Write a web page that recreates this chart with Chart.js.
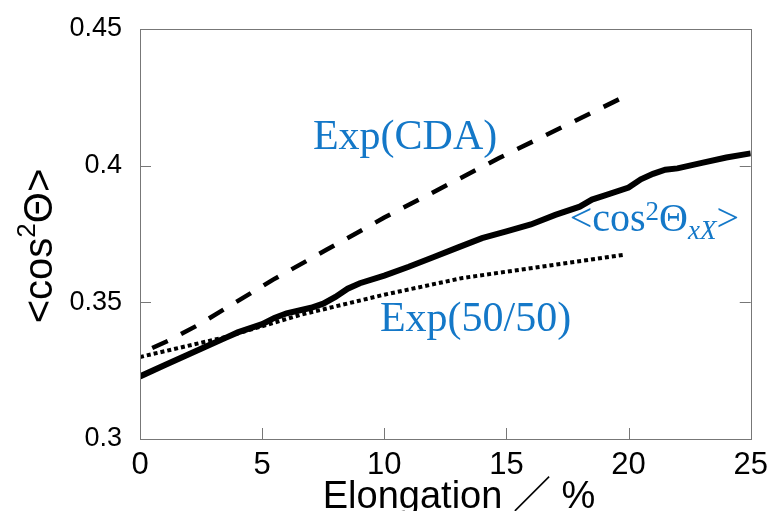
<!DOCTYPE html>
<html>
<head>
<meta charset="utf-8">
<script src="https://cdn.jsdelivr.net/npm/chart.js@4/dist/chart.umd.min.js"></script>
<style>
  html, body { margin: 0; padding: 0; background: #fff; overflow: hidden; }
  #wrap { width: 768px; height: 511px; }
</style>
</head>
<body>
<div id="wrap"><canvas id="chart"></canvas></div>
<script>
// axis ticks
const xTicks = [0, 5, 10, 15, 20, 25]
const yTicks = [0.3, 0.35, 0.4, 0.45]
const yTickLabels = ['0.3', '0.35', '0.4', '0.45']

// measured <cos2 Theta_xX> (solid)
const measX = [0, 1, 2, 3, 3.5, 4, 5, 5.5, 6, 7, 7.5, 8, 8.5, 9, 10, 11, 12, 13, 14, 15, 16, 17, 18, 18.5, 19, 20, 20.5, 21, 21.5, 22, 23, 24, 25]
const measY = [0.3229, 0.327, 0.331, 0.335, 0.337, 0.339, 0.342, 0.3443, 0.346, 0.348, 0.3495, 0.352, 0.355, 0.357, 0.3598, 0.363, 0.3665, 0.370, 0.3735, 0.376, 0.3785, 0.382, 0.385, 0.3876, 0.389, 0.392, 0.395, 0.397, 0.3985, 0.399, 0.401, 0.403, 0.4045]

// Exp(CDA) (dashed)
const cdaX = [0.5, 1.2, 2.4, 5.45, 7.65, 10, 14.7, 20]
const cdaY = [0.3333, 0.3361, 0.3418, 0.3583, 0.3693, 0.381, 0.4028, 0.426]

// Exp(50/50) (dotted)
const fiftyX = [0, 3.5, 6.6, 10, 13.2, 19.8]
const fiftyY = [0.3300, 0.3373, 0.3455, 0.3528, 0.3589, 0.3674]

const toPoints = (xs, ys) => xs.map((v, i) => ({ x: v, y: ys[i] }))

const blue = '#1478c8'
const serif = '"Liberation Serif", "Times New Roman", serif'
const sans = '"Liberation Sans", Arial, "Noto Sans CJK JP", sans-serif'

// draw a run of text pieces one after another
const drawRun = (ctx, parts, x, y) => {
    parts.forEach(p => {
        ctx.font = p.font
        ctx.fillText(p.text, x, y + (p.dy || 0))
        x += ctx.measureText(p.text).width
    })
}
const runWidth = (ctx, parts) => parts.reduce((w, p) => {
    ctx.font = p.font
    return w + ctx.measureText(p.text).width
}, 0)

const decorPlugin = {
    id: 'decor',
    afterDraw: (chart) => {
        const { ctx, chartArea: a, scales: { x, y } } = chart
        ctx.save()

        // frame
        ctx.strokeStyle = '#777'
        ctx.lineWidth = 1
        ctx.strokeRect(Math.round(a.left) + 0.5, Math.round(a.top) + 0.5, Math.round(a.right - a.left), Math.round(a.bottom - a.top))

        // inward ticks
        ctx.beginPath()
        yTicks.slice(1, -1).forEach(v => {
            const py = Math.round(y.getPixelForValue(v)) + 0.5
            ctx.moveTo(a.left, py); ctx.lineTo(a.left + 11, py)
            ctx.moveTo(a.right, py); ctx.lineTo(a.right - 11, py)
        })
        xTicks.slice(1, -1).forEach(v => {
            const px = Math.round(x.getPixelForValue(v)) + 0.5
            ctx.moveTo(px, a.bottom); ctx.lineTo(px, a.bottom - 11)
        })
        ctx.stroke()

        // blue labels inside the plot
        ctx.fillStyle = blue
        ctx.textAlign = 'left'
        ctx.textBaseline = 'alphabetic'
        ctx.font = '42px ' + serif
        ctx.fillText('Exp(CDA)', x.getPixelForValue(7.08), y.getPixelForValue(0.4061))
        ctx.fillText('Exp(50/50)', x.getPixelForValue(9.82), y.getPixelForValue(0.3394))
        drawRun(ctx, [
            { text: '<cos', font: '40px ' + serif },
            { text: '2', font: '27px ' + serif, dy: -11 },
            { text: 'Θ', font: '40px ' + serif },
            { text: 'xX', font: 'italic 27px ' + serif, dy: 8 },
            { text: '>', font: '40px ' + serif }
        ], x.getPixelForValue(17.59), y.getPixelForValue(0.3760))

        // axis titles
        ctx.fillStyle = '#000'
        ctx.textAlign = 'center'
        ctx.font = '38px ' + sans
        ctx.fillText('Elongation ／ %', 459, 508)

        const yTitle = [
            { text: '<cos', font: '40px ' + sans },
            { text: '2', font: '26px ' + sans, dy: -17 },
            { text: 'Θ>', font: '40px ' + sans }
        ]
        ctx.textAlign = 'left'
        ctx.translate(52, 246)
        ctx.rotate(-Math.PI / 2)
        drawRun(ctx, yTitle, -runWidth(ctx, yTitle) / 2, 0)

        ctx.restore()
    }
}

new Chart(document.getElementById('chart'), {
    type: 'line',
    data: {
        datasets: [
            {
                label: '<cos2ΘxX>',
                data: toPoints(measX, measY),
                borderColor: '#000',
                borderWidth: 6,
                pointRadius: 0,
                order: 0
            },
            {
                label: 'Exp(CDA)',
                data: toPoints(cdaX, cdaY),
                borderColor: '#000',
                borderWidth: 4.5,
                borderDash: [17, 15],
                pointRadius: 0,
                order: 1
            },
            {
                label: 'Exp(50/50)',
                data: toPoints(fiftyX, fiftyY),
                borderColor: '#000',
                borderWidth: 4,
                borderDash: [4, 3],
                pointRadius: 0,
                order: 2
            }
        ]
    },
    options: {
        responsive: true,
        maintainAspectRatio: false,
        animation: false,
        layout: { padding: { left: 0, top: 29, right: 17, bottom: 0 } },
        plugins: {
            legend: { display: false },
            tooltip: { enabled: false }
        },
        scales: {
            x: {
                type: 'linear',
                min: 0,
                max: 25,
                grid: { display: false },
                border: { display: false },
                afterFit: (s) => { s.height = 72 },
                afterBuildTicks: (s) => { s.ticks = xTicks.map(v => ({ value: v })) },
                ticks: {
                    color: '#000',
                    padding: 0,
                    maxRotation: 0,
                    font: { family: '"Liberation Sans Narrow", "Liberation Sans", Arial, sans-serif', size: 31 }
                }
            },
            y: {
                min: 0.3,
                max: 0.45,
                grid: { display: false },
                border: { display: false },
                afterFit: (s) => { s.width = 140 },
                afterBuildTicks: (s) => { s.ticks = yTicks.map(v => ({ value: v })) },
                ticks: {
                    color: '#000',
                    padding: 10,
                    font: { family: '"Liberation Sans", Arial, sans-serif', size: 27 },
                    callback: (v) => yTickLabels[yTicks.findIndex(t => Math.abs(t - v) < 1e-9)]
                }
            }
        }
    },
    plugins: [decorPlugin]
})
</script>
</body>
</html>
